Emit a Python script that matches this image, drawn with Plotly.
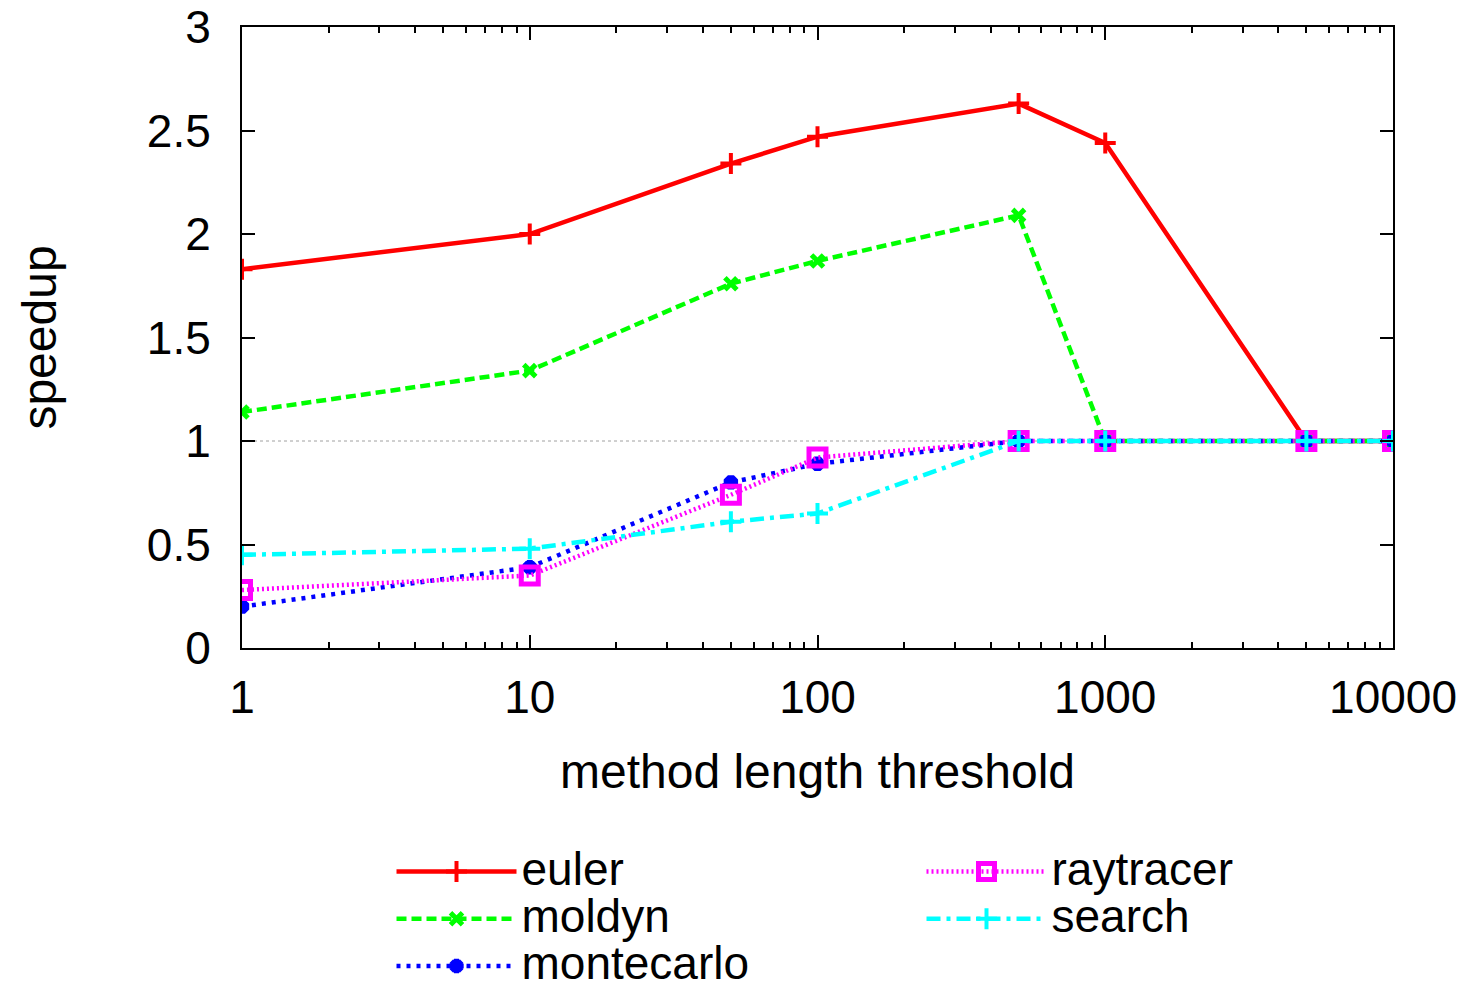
import plotly.graph_objects as go

thresholds = [1, 10, 50, 100, 500, 1000, 5000, 10000]
euler = [1.83, 2.00, 2.34, 2.47, 2.63, 2.44, 1.0, 1.0]
moldyn = [1.14, 1.34, 1.76, 1.87, 2.09, 1.0, 1.0, 1.0]
montecarlo = [0.20, 0.39, 0.80, 0.89, 1.0, 1.0, 1.0, 1.0]
raytracer = [0.28, 0.35, 0.74, 0.92, 1.0, 1.0, 1.0, 1.0]
search = [0.45, 0.48, 0.61, 0.65, 1.0, 1.0, 1.0, 1.0]

x_ticks = [1, 10, 100, 1000, 10000]
x_ticklabels = ["1", "10", "100", "1000", "10000"]
y_ticks = [0, 0.5, 1, 1.5, 2, 2.5, 3]
y_ticklabels = ["0", "0.5", "1", "1.5", "2", "2.5", "3"]
minor_mantissas = [2, 3, 4, 5, 6, 7, 8, 9]
minor_x_ticks = [m * d for d in [1, 10, 100, 1000] for m in minor_mantissas]

FONT = "Liberation Sans, Arial, Helvetica, sans-serif"

series = [
    ("euler", euler, "#ff0000", "solid", "cross-thin", 15, 4, 1),
    ("moldyn", moldyn, "#00ff00", "10px,5px", "x-thin", 12, 5, 3),
    ("montecarlo", montecarlo, "#0000ff", "4px,6px", "asterisk-open", 12, 6, 5),
    ("raytracer", raytracer, "#ff00ff", "2px,3px", "square-open", 17, 5, 2),
    ("search", search, "#00ffff", "14px,6px,4px,6px", "cross-thin", 15, 4, 4),
]

fig = go.Figure()
for name, vals, color, dash, sym, size, mlw, rank in series:
    fig.add_trace(go.Scatter(
        x=thresholds, y=vals,
        name=f'<span style="font-size:46px">{name}</span>',
        mode="lines+markers",
        line=dict(color=color, width=4.5, dash=dash),
        marker=dict(symbol=sym, size=size, color=color,
                    line=dict(color=color, width=mlw)),
        legendrank=rank,
    ))

fig.add_shape(type="line", xref="paper", x0=0, x1=1, yref="y", y0=1, y1=1,
              line=dict(color="#a0a0a0", width=1, dash="dot"), layer="below")

fig.update_layout(
    width=1475, height=987,
    margin=dict(l=234, r=90, t=19, b=347, autoexpand=False),
    paper_bgcolor="white", plot_bgcolor="white",
    font=dict(family=FONT, size=46, color="black"),
    showlegend=True,
    legend=dict(orientation="h", xref="container", yref="container",
                x=0.26, y=0.154, xanchor="left", yanchor="top",
                entrywidth=395, entrywidthmode="pixels",
                font=dict(size=34), tracegroupgap=0, itemwidth=120,
                bgcolor="rgba(0,0,0,0)"),
)
fig.update_xaxes(
    type="log", range=[0, 4], automargin=False,
    tickvals=x_ticks, ticktext=x_ticklabels,
    ticks="inside", ticklen=13, tickwidth=2, tickcolor="black",
    showline=True, linecolor="black", linewidth=2, mirror="allticks",
    showgrid=False, zeroline=False,
    minor=dict(tickvals=minor_x_ticks, ticks="inside", ticklen=6, tickwidth=2,
               tickcolor="black", showgrid=False),
    tickfont=dict(size=46), ticklabelstandoff=8, ticklabeloverflow="allow",
    title=dict(text="method length threshold", font=dict(size=48), standoff=32),
)
fig.update_yaxes(
    range=[0, 3], automargin=False,
    tickvals=y_ticks, ticktext=y_ticklabels,
    ticks="inside", ticklen=13, tickwidth=2, tickcolor="black",
    showline=True, linecolor="black", linewidth=2, mirror="allticks",
    showgrid=False, zeroline=False,
    tickfont=dict(size=46), ticklabelstandoff=20, ticklabeloverflow="allow",
    title=dict(text="speedup", font=dict(size=48), standoff=75),
)

fig.write_html("out.html")
